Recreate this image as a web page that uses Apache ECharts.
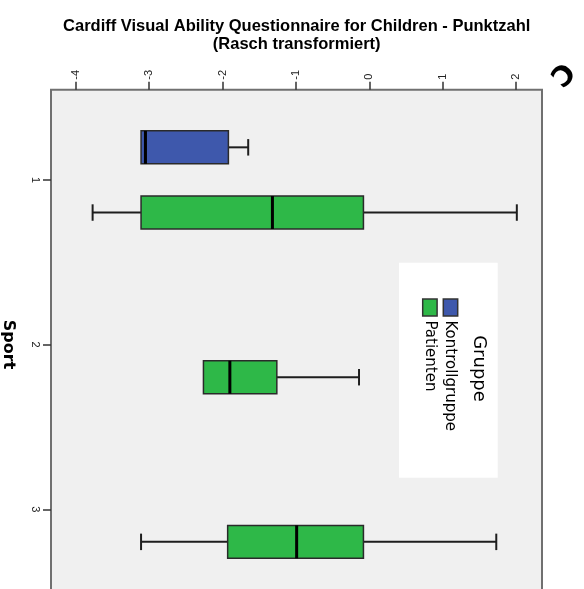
<!DOCTYPE html>
<html>
<head>
<meta charset="utf-8">
<style>html,body{margin:0;padding:0;background:#fff}#c{width:584px;height:589px}</style>
<script src="https://cdn.jsdelivr.net/npm/echarts@6/dist/echarts.min.js"></script>
</head>
<body>
<div id="c"></div>
<script>
// ---- data ----
const categories = ['1', '2', '3'];
const groupNames = ['Kontrollgruppe', 'Patienten'];
// [category index, min, Q1, median, Q3, max]
const kontrollgruppe = [
  [0, -3.11, -3.11, -3.05, -1.92, -1.65]
];
const patienten = [
  [0, -3.77, -3.11, -1.32, -0.08, 2.01],
  [1, -2.26, -2.26, -1.90, -1.26, -0.14],
  [2, -3.11, -1.93, -0.99, -0.08, 1.73]
];
const valueTicks = [-4, -3, -2, -1, 0, 1, 2];
const categoryTicks = [0, 1, 2];

const titleText = 'Cardiff Visual Ability Questionnaire for Children - Punktzahl\n(Rasch transformiert)';
const colors = ['#3e58ac', '#2eb848'];

function makeRender(offset) {
  return function (params, api) {
    const cat = api.value(0);
    const band = api.size([0, 1])[1];
    const yc = api.coord([0, cat])[1] + offset * band;
    const half = band * 0.1;
    const capHalf = band * 0.05;
    const xs = [1, 2, 3, 4, 5].map(i => api.coord([api.value(i), cat])[0]);
    const xMin = xs[0], xQ1 = xs[1], xMed = xs[2], xQ3 = xs[3], xMax = xs[4];
    const color = api.visual('color');
    const wStyle = { stroke: '#1e1e1e', lineWidth: 2 };
    const children = [];
    if (xMin < xQ1 - 0.5) {
      children.push({ type: 'line', shape: { x1: xMin, y1: yc, x2: xQ1, y2: yc }, style: wStyle });
      children.push({ type: 'line', shape: { x1: xMin, y1: yc - capHalf, x2: xMin, y2: yc + capHalf }, style: wStyle });
    }
    if (xMax > xQ3 + 0.5) {
      children.push({ type: 'line', shape: { x1: xQ3, y1: yc, x2: xMax, y2: yc }, style: wStyle });
      children.push({ type: 'line', shape: { x1: xMax, y1: yc - capHalf, x2: xMax, y2: yc + capHalf }, style: wStyle });
    }
    children.push({ type: 'rect', shape: { x: xQ1, y: yc - half, width: xQ3 - xQ1, height: 2 * half },
      style: { fill: color, stroke: '#2a2a2a', lineWidth: 1.5 } });
    children.push({ type: 'line', shape: { x1: xMed, y1: yc - half, x2: xMed, y2: yc + half },
      style: { stroke: '#000', lineWidth: 3 } });
    return { type: 'group', children: children };
  };
}

const chart = echarts.init(document.getElementById('c'), null, { renderer: 'canvas' });
const rot = -Math.PI / 2;
chart.setOption({
  animation: false,
  backgroundColor: '#ffffff',
  title: {
    text: titleText,
    left: 296.7,
    textAlign: 'center',
    top: 18,
    padding: 0,
    textStyle: { fontFamily: 'Liberation Sans, Arial, sans-serif', fontWeight: 'bold', fontSize: 16.5, lineHeight: 17.5, color: '#000' }
  },
  grid: {
    left: 51, right: 42, top: 89.7, height: 509.8,
    outerBoundsMode: 'none', containLabel: false,
    show: true, backgroundColor: '#f0f0f0', borderColor: '#707070', borderWidth: 2
  },
  xAxis: {
    type: 'value', position: 'top',
    min: -4.337, max: 2.353,
    axisLine: { show: false, onZero: false },
    splitLine: { show: false },
    axisTick: { show: true, customValues: valueTicks, length: 8, lineStyle: { color: '#333', width: 1.5 } },
    axisLabel: { customValues: valueTicks, rotate: -90, margin: 10, fontSize: 11, color: '#222',
      fontFamily: 'Liberation Sans, Arial, sans-serif' }
  },
  yAxis: {
    type: 'value', inverse: true, position: 'left',
    min: -0.548, max: 2.548,
    name: 'Sport', nameLocation: 'middle', nameRotate: -90, nameGap: 35,
    nameTextStyle: { fontFamily: 'DejaVu Sans, sans-serif', fontWeight: 'bold', fontSize: 16, color: '#000' },
    axisLine: { show: false, onZero: false },
    splitLine: { show: false },
    axisTick: { show: true, customValues: categoryTicks, length: 8, lineStyle: { color: '#333', width: 1.5 } },
    axisLabel: { customValues: categoryTicks, rotate: -90, margin: 10, fontSize: 11, color: '#222',
      fontFamily: 'Liberation Sans, Arial, sans-serif',
      formatter: function (v) { return categories[Math.round(v)]; } }
  },
  series: [
    { name: groupNames[0], type: 'custom', renderItem: makeRender(-0.198), data: kontrollgruppe,
      encode: { x: [1, 2, 3, 4, 5], y: 0 }, itemStyle: { color: colors[0] }, z: 3 },
    { name: groupNames[1], type: 'custom', renderItem: makeRender(0.198), data: patienten,
      encode: { x: [1, 2, 3, 4, 5], y: 0 }, itemStyle: { color: colors[1] }, z: 3 }
  ],
  graphic: [
    { type: 'rect', shape: { x: 399, y: 262.7, width: 98.7, height: 215 }, style: { fill: '#ffffff' }, z: 10 },
    { type: 'text', x: 478.5, y: 368.5, rotation: rot, z: 11,
      style: { text: 'Gruppe', align: 'center', verticalAlign: 'middle', fontFamily: 'DejaVu Sans, sans-serif', fontSize: 18, fill: '#000' } },
    { type: 'rect', shape: { x: 443.3, y: 299, width: 14.4, height: 17 }, style: { fill: colors[0], stroke: '#333', lineWidth: 1.5 }, z: 11 },
    { type: 'rect', shape: { x: 422.7, y: 299, width: 14.4, height: 17 }, style: { fill: colors[1], stroke: '#333', lineWidth: 1.5 }, z: 11 },
    { type: 'text', x: 449.7, y: 320.5, rotation: rot, z: 11,
      style: { text: groupNames[0], align: 'left', verticalAlign: 'middle', fontFamily: 'DejaVu Sans, sans-serif', fontSize: 15, fill: '#000' } },
    { type: 'text', x: 430, y: 320.5, rotation: rot, z: 11,
      style: { text: groupNames[1], align: 'left', verticalAlign: 'middle', fontFamily: 'DejaVu Sans, sans-serif', fontSize: 15, fill: '#000' } },
    { type: 'text', x: 561, y: 73, rotation: -135 * Math.PI / 180, z: 11,
      style: { text: 'C', align: 'center', verticalAlign: 'middle', fontFamily: 'DejaVu Sans, sans-serif', fontWeight: 'bold', fontSize: 28, fill: '#000' } }
  ]
});
</script>
</body>
</html>
